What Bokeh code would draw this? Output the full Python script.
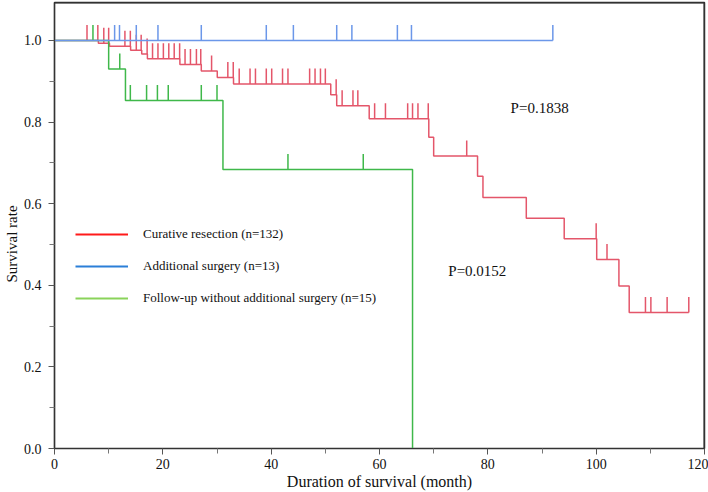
from bokeh.plotting import figure
from bokeh.models import (FixedTicker, PrintfTickFormatter, Label, Legend,
                          LegendItem, Range1d, Span, Title)
from bokeh.embed import file_html
from bokeh.resources import INLINE

# ---------------- data ----------------
x_major_ticks = [0, 20, 40, 60, 80, 100, 120]
x_minor_ticks = [10, 30, 50, 70, 90, 110]
y_major_ticks = [0.0, 0.2, 0.4, 0.6, 0.8, 1.0]
y_minor_ticks = [0.1, 0.3, 0.5, 0.7, 0.9]

# Curative resection (n=132)
red_event_times = [8.1, 10.15, 14.05, 16.1, 17.15, 23.15, 27.1, 30.05, 33.05,
                   51.0, 52.1, 58.1, 69.1, 70.0, 78.1, 79.1, 87.1, 94.1,
                   100.1, 104.2, 106.1]
red_event_surv = [0.993, 0.986, 0.976, 0.967, 0.955, 0.941, 0.925, 0.909, 0.893,
                  0.867, 0.840, 0.808, 0.763, 0.717, 0.667, 0.615, 0.564, 0.514,
                  0.463, 0.398, 0.333]
red_censor_times = [6.0, 8.0, 9.1, 10.0, 13.0, 14.0, 15.1, 16.0, 17.1,
                    18.1, 19.1, 20.1, 21.1, 22.1, 23.1, 24.1, 25.1, 26.2, 27.0,
                    29.0, 32.0, 33.0, 34.1, 36.1, 37.1, 39.1, 40.1, 42.1, 43.1,
                    47.1, 48.1, 49.1, 50.0, 52.0, 53.1, 55.1, 56.0, 59.1, 61.1,
                    65.2, 66.1, 67.1, 69.0, 76.1, 100.0, 102.0, 109.1, 110.1,
                    113.1, 117.1]
red_end = 117.1

# Additional surgery (n=13)
blue_event_times = []
blue_event_surv = []
blue_censor_times = [11.1, 12.0, 15.1, 19.1, 27.1, 39.1, 44.1, 52.1, 54.9,
                     63.3, 65.9, 92.0]
blue_end = 92.0

# Follow-up without additional surgery (n=15)
green_event_times = [10.0, 13.1, 31.1, 66.1]
green_event_surv = [0.930, 0.853, 0.684, 0.0]
green_censor_times = [7.1, 12.05, 14.0, 17.0, 19.0, 21.0, 27.1, 30.0, 43.1, 57.0]
green_end = 66.1

legend_labels = ["Curative resection (n=132)",
                 "Additional surgery (n=13)",
                 "Follow-up without additional surgery (n=15)"]
p_value_texts = ["P=0.1838", "P=0.0152"]
x_title = "Duration of survival (month)"
y_title = "Survival rate"

# ---------------- styles ----------------
FONT = "Liberation Serif"
curve_colors = ["#e4566a", "#6b97e9", "#3fb84a"]
legend_colors = ["#ff1a1a", "#2b7fd8", "#8ad35a"]
TICK_LEN = 0.038
Y_TOP = 1.093


def km_steps(times, surv, end):
    xs = [0.0] + list(times) + [end]
    ys = [1.0] + list(surv) + [surv[-1] if surv else 1.0]
    return xs, ys


def level_at(t, times, surv):
    s = 1.0
    for ti, si in zip(times, surv):
        if ti <= t:
            s = si
    return s


p = figure(width=708, height=492, output_backend="svg", toolbar_location=None,
           x_range=Range1d(0, 120), y_range=Range1d(0, Y_TOP),
           min_border_left=54, min_border_right=4, min_border_top=2,
           min_border_bottom=44)
p.xgrid.visible = False
p.ygrid.visible = False
p.outline_line_color = "#333333"
p.outline_line_width = 1.5
p.background_fill_color = "white"
p.border_fill_color = "white"

p.axis.axis_line_color = "#333333"
p.axis.axis_line_width = 1.2
p.axis.major_tick_in = 0
p.axis.major_tick_out = 6
p.axis.minor_tick_in = 0
p.axis.minor_tick_out = 5
p.axis.major_tick_line_color = "#555555"
p.axis.minor_tick_line_color = "#777777"
p.axis.major_label_text_font = FONT
p.axis.major_label_text_font_size = "14px"
p.axis.major_label_text_color = "#111111"
p.axis.axis_label_text_font = FONT
p.axis.axis_label_text_font_style = "normal"
p.axis.axis_label_text_color = "#111111"
p.xaxis.major_label_standoff = 4
p.yaxis.major_label_standoff = 7
p.xaxis.axis_label_standoff = 1

p.xaxis.axis_label = x_title
p.xaxis.axis_label_text_font_size = "16px"

# y title as a side title so it can sit centred on the 0-1 span
ytitle = Title(text=y_title, align="left", offset=166, text_font=FONT,
               text_font_size="15px", text_font_style="normal",
               text_color="#111111", standoff=2)
p.add_layout(ytitle, "left")

p.xaxis.ticker = FixedTicker(ticks=x_major_ticks, minor_ticks=x_minor_ticks)
p.yaxis.ticker = FixedTicker(ticks=y_major_ticks, minor_ticks=y_minor_ticks)
p.yaxis.formatter = PrintfTickFormatter(format="%.1f")

# frame box (top and right edges)
p.add_layout(Span(location=Y_TOP, dimension="width", line_color="#333333",
                  line_width=2))
p.add_layout(Span(location=120, dimension="height", line_color="#333333",
                  line_width=2))

series = [
    (red_event_times, red_event_surv, red_censor_times, red_end),
    (green_event_times, green_event_surv, green_censor_times, green_end),
    (blue_event_times, blue_event_surv, blue_censor_times, blue_end),
]
colors_by_series = [curve_colors[0], curve_colors[2], curve_colors[1]]

for (et, es, ct, end), col in zip(series, colors_by_series):
    xs, ys = km_steps(et, es, end)
    p.step(xs, ys, mode="after", line_color=col, line_width=1.5)
    lv = [level_at(t, et, es) for t in ct]
    p.segment(x0=ct, y0=lv, x1=ct, y1=[v + TICK_LEN for v in lv],
              line_color=col, line_width=1.5)

# legend with its own colours
items = []
for lab, col in zip(legend_labels, legend_colors):
    r = p.line(x=[float("nan")], y=[float("nan")], line_color=col, line_width=2)
    items.append(LegendItem(label=lab, renderers=[r]))
legend = Legend(items=items, location=(21, 140), orientation="vertical",
                glyph_width=53, glyph_height=20, label_height=20,
                label_standoff=15, spacing=12, padding=0, margin=0,
                border_line_color=None, background_fill_alpha=0,
                label_text_font=FONT, label_text_font_size="13px",
                label_text_color="#111111")
p.add_layout(legend)

p.add_layout(Label(x=84.2, y=0.835, text=p_value_texts[0], text_font=FONT,
                   text_font_size="15px", text_color="#111111",
                   text_align="left", text_baseline="alphabetic"))
p.add_layout(Label(x=72.7, y=0.435, text=p_value_texts[1], text_font=FONT,
                   text_font_size="15px", text_color="#111111",
                   text_align="left", text_baseline="alphabetic"))

open("out.html", "w").write(file_html(p, INLINE))
